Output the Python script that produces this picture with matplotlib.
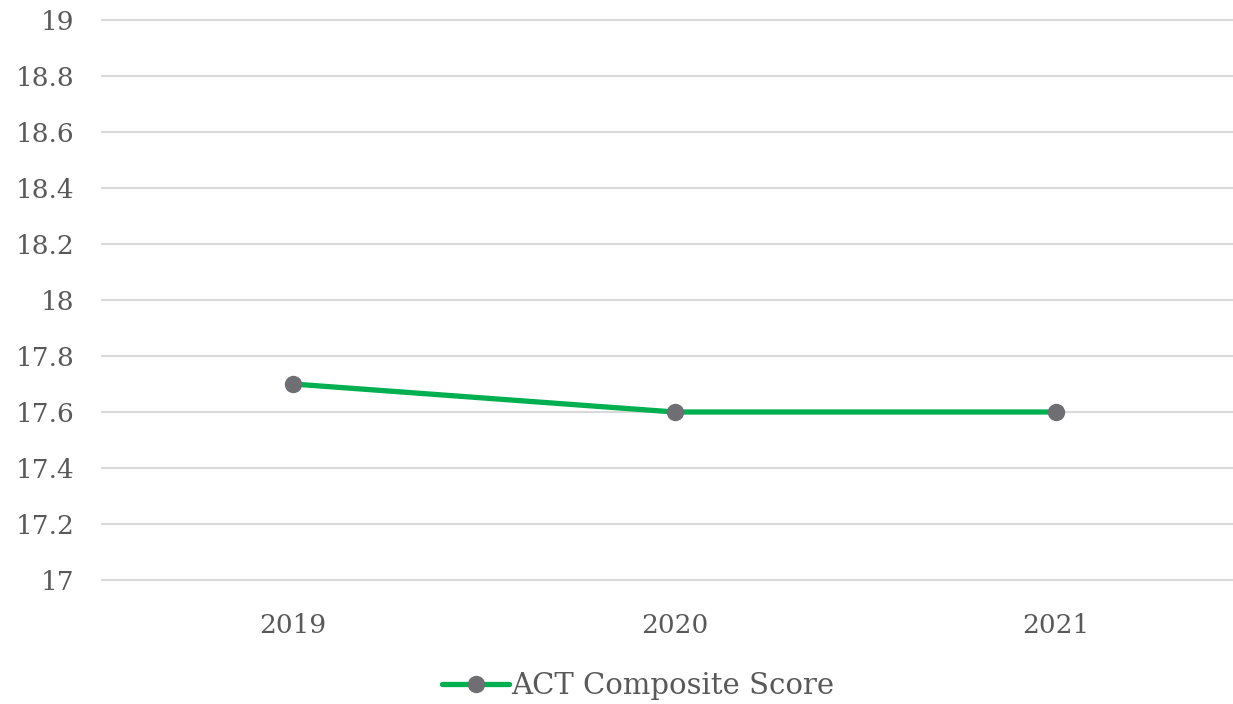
import matplotlib as mpl

mpl.use("Agg")
import matplotlib.pyplot as plt
from matplotlib.lines import Line2D

years = ["2019", "2020", "2021"]
act_composite = [17.7, 17.6, 17.6]
y_ticks = [17, 17.2, 17.4, 17.6, 17.8, 18, 18.2, 18.4, 18.6, 18.8, 19]
y_tick_labels = ["17", "17.2", "17.4", "17.6", "17.8", "18", "18.2", "18.4", "18.6", "18.8", "19"]

mpl.rcParams.update({"font.family": "DejaVu Serif", "font.size": 19})

LINE = "#00B050"
MARK = "#6F6E73"
TEXT = "#595959"
GRID = "#D9D9D9"

W, H = 1233, 704
fig = plt.figure(figsize=(W / 100, H / 100), dpi=100, facecolor="white")
ax = fig.add_axes([102 / W, 1 - 580 / H, 1145 / W, 560 / H])

x = list(range(len(years)))
ax.plot(x, act_composite, color=LINE, lw=3.8, marker="o", ms=11.5,
        mfc=MARK, mec=MARK, zorder=3, solid_capstyle="round")

ax.set_xlim(-0.5, len(years) - 0.5)
ax.set_ylim(17, 19)
ax.set_yticks(y_ticks)
ax.set_yticklabels(y_tick_labels)
ax.set_xticks(x)
ax.set_xticklabels(years)
ax.yaxis.grid(True, color=GRID, lw=1.5)
ax.set_axisbelow(True)
for gl in ax.get_ygridlines():
    gl.set_clip_on(False)
for s in ax.spines.values():
    s.set_visible(False)
ax.tick_params(axis="both", length=0, colors=TEXT, labelsize=19)
ax.tick_params(axis="y", pad=20)
ax.tick_params(axis="x", pad=24)

handle = Line2D([], [], color=LINE, lw=3.8, marker="o", ms=11.5,
                mfc=MARK, mec=MARK, solid_capstyle="round")
fig.legend(handles=[handle], labels=["ACT Composite Score"], loc="center",
           bbox_to_anchor=(638 / W, 1 - 686 / H), frameon=False,
           handlelength=2.3, handletextpad=0.05, labelcolor=TEXT, fontsize=21)

fig.savefig("out.png", dpi=100, facecolor="white")
